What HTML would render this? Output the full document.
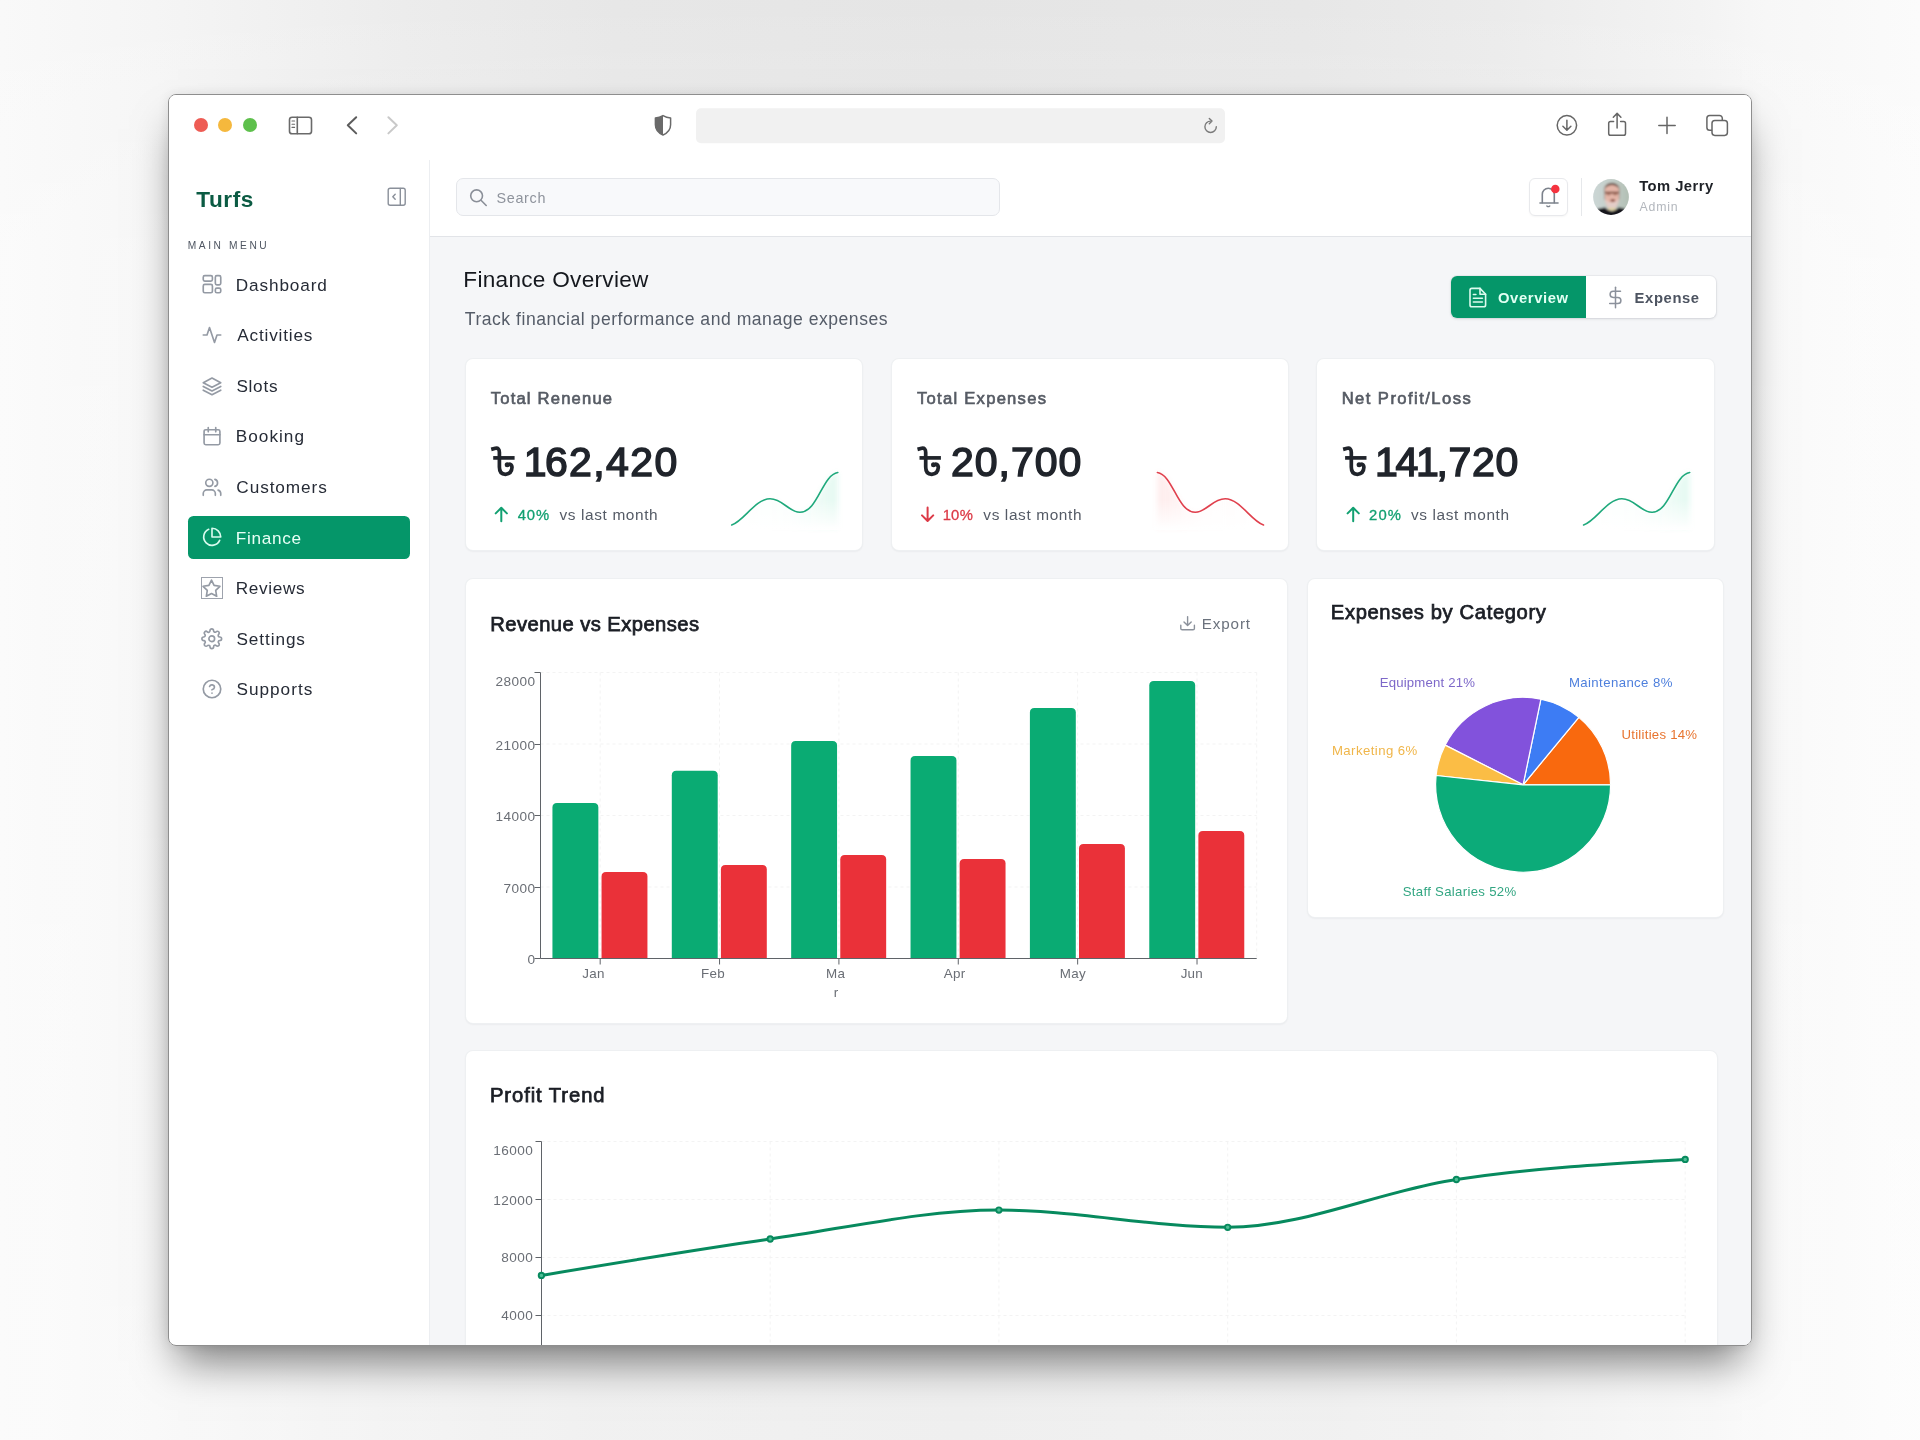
<!DOCTYPE html>
<html><head><meta charset="utf-8"><title>Turfs Finance</title>
<style>
*{box-sizing:border-box;margin:0;padding:0}
html,body{width:1920px;height:1440px;overflow:hidden}
body{font-family:"Liberation Sans",sans-serif;background:#f4f4f4;position:relative}
.bg{position:absolute;left:0;top:0;width:1920px;height:1440px;
 background:
  linear-gradient(180deg,rgba(255,255,255,0) 0%,rgba(255,255,255,.10) 6%,rgba(255,255,255,.30) 18%,rgba(255,255,255,.40) 100%),
  linear-gradient(90deg,#f9f9f9 0%,#f5f5f5 8%,#ececec 21%,#e7e7e7 32%,#e5e5e5 50%,#e7e7e7 68%,#ebebeb 78%,#f3f3f3 88.500%,#f7f7f7 92%,#fbfbfb 100%);}
.win{position:absolute;left:168px;top:94px;width:1584px;height:1252px;background:#fff;border:1px solid #8e8e8e;border-radius:8px;overflow:hidden;}
.shadow{position:absolute;left:168px;top:94px;width:1584px;height:1252px;border-radius:8px;
 box-shadow:0 25px 40px -10px rgba(0,0,0,.50),0 0 12px rgba(0,0,0,.08);}
.pg{position:absolute;left:-169px;top:-95px;width:1920px;height:1440px;will-change:transform}
.t{position:absolute;white-space:nowrap;line-height:1}
.abs{position:absolute}
.card{position:absolute;background:#fff;border-radius:7px;box-shadow:0 0 0 1px #eef0f2,0 1px 3px rgba(16,24,40,.07),0 1px 2px rgba(16,24,40,.04)}
svg{position:absolute;overflow:visible}
</style></head><body>
<div class="bg"></div>
<div class="shadow"></div>
<div class="win"><div class="pg">
<div class="abs" style="left:169px;top:95px;width:1582px;height:65px;background:#fff"></div>
<div class="abs" style="left:194px;top:118.3px;width:14px;height:14px;border-radius:50%;background:#ee5c54"></div>
<div class="abs" style="left:218.3px;top:118.3px;width:14px;height:14px;border-radius:50%;background:#f5b83d"></div>
<div class="abs" style="left:242.7px;top:118.3px;width:14px;height:14px;border-radius:50%;background:#5ec04c"></div>
<svg style="left:0;top:0" width="1920" height="1440" viewBox="0 0 1920 1440" fill="none">
<g stroke="#6a6a6a" stroke-width="1.6" stroke-linecap="round" stroke-linejoin="round">
<rect x="289.5" y="117.2" width="22" height="16.6" rx="2.6"/>
<path d="M297.3 117.4V133.6"/>
<path d="M292 121h2.6M292 124.2h2.6M292 127.4h2.6" stroke-width="1.1"/>
</g>
<path d="M356.2 117.3L347.8 125.3L356.2 133.4" stroke="#5c5c5c" stroke-width="2" stroke-linecap="round" stroke-linejoin="round"/>
<path d="M388.4 117.3L396.8 125.3L388.4 133.4" stroke="#c9c9c9" stroke-width="2" stroke-linecap="round" stroke-linejoin="round"/>
<!-- shield -->
<path d="M663 115.6c-2.6 1.5-5 2.1-7.6 2.3v6.9c0 4.7 3 8.2 7.6 10.2 4.6-2 7.6-5.5 7.6-10.2v-6.9c-2.6-.2-5-.8-7.6-2.300z" stroke="#6a6a6a" stroke-width="1.5" stroke-linejoin="round"/>
<path d="M663 115.6c-2.6 1.5-5 2.1-7.6 2.3v6.900c0 4.700 3 8.200 7.600 10.200z" fill="#6a6a6a"/>
<!-- url bar -->
<rect x="696" y="108.300" width="529" height="35" rx="5" fill="#f1f1f1"/>
<!-- reload -->
<g stroke="#7a7a7a" stroke-width="1.4" stroke-linecap="round" stroke-linejoin="round">
<path d="M1216.300 126.800a5.700 5.700 0 1 1-5.700-5.700"/>
<path d="M1209.300 118.400l2.700 2.700-2.700 2.700"/>
</g>
<!-- right icons -->
<g stroke="#666" stroke-width="1.5" stroke-linecap="round" stroke-linejoin="round">
<circle cx="1566.900" cy="125.300" r="9.700"/>
<path d="M1566.900 120.300v9.600M1562.900 126.300l4 4 4-4"/>
<path d="M1613.600 121.500h-3.100a1.800 1.800 0 0 0-1.800 1.800v10.200a1.800 1.800 0 0 0 1.800 1.800h13.200a1.800 1.800 0 0 0 1.800-1.800v-10.200a1.800 1.800 0 0 0-1.800-1.800h-3.100"/>
<path d="M1617.100 128v-14M1613.300 117.200l3.800-3.800 3.800 3.800"/>
<path d="M1667 117.200v16.400M1658.800 125.400h16.400"/>
<path d="M1711.500 130.300h-1.800a2.800 2.800 0 0 1-2.800-2.800v-9.200a2.800 2.800 0 0 1 2.800-2.800h9.800a2.800 2.800 0 0 1 2.800 2.800v1.800"/>
<rect x="1712" y="120.400" width="15.400" height="15" rx="2.800"/>
</g>
</svg>
<div class="abs" style="left:430px;top:237px;width:1322px;height:1110px;background:#f5f6f8"></div>
<div class="abs" style="left:429px;top:160px;width:1px;height:1190px;background:#eceef1"></div>
<div class="abs" style="left:430px;top:236px;width:1322px;height:1px;background:#e2e4e8"></div>
<div class="t" style="left:196.35px;top:187px;font-size:22.6px;line-height:25px;color:#0b5b43;letter-spacing:0.540px;font-weight:700;">Turfs</div>
<svg style="left:0;top:0" width="1920" height="1440" viewBox="0 0 1920 1440" fill="none">
<g stroke="#8a909a" stroke-width="1.4" stroke-linecap="round" stroke-linejoin="round">
<rect x="388.200" y="188.200" width="17" height="17" rx="2"/>
<path d="M400.300 188.400v16.600"/>
<path d="M395.200 194.200l-2.400 2.500 2.400 2.500"/>
</g></svg>
<div class="t" style="left:187.66px;top:240px;font-size:10.2px;line-height:11px;color:#4f5662;letter-spacing:2.595px;">MAIN MENU</div>
<div class="abs" style="left:188px;top:515.6px;width:222px;height:43.400px;border-radius:5.5px;background:#059669"></div>
<div class="t" style="left:235.79px;top:275px;font-size:17.2px;line-height:20px;color:#262b36;letter-spacing:0.872px;">Dashboard</div>
<div class="t" style="left:237.17px;top:325px;font-size:17.2px;line-height:20px;color:#262b36;letter-spacing:0.833px;">Activities</div>
<div class="t" style="left:236.42px;top:376px;font-size:17.2px;line-height:20px;color:#262b36;letter-spacing:0.717px;">Slots</div>
<div class="t" style="left:235.79px;top:426px;font-size:17.2px;line-height:20px;color:#262b36;letter-spacing:1.011px;">Booking</div>
<div class="t" style="left:236.33px;top:477px;font-size:17.2px;line-height:20px;color:#262b36;letter-spacing:0.917px;">Customers</div>
<div class="t" style="left:235.79px;top:528px;font-size:17.2px;line-height:20px;color:#e8fff6;letter-spacing:0.698px;">Finance</div>
<div class="t" style="left:235.79px;top:578px;font-size:17.2px;line-height:20px;color:#262b36;letter-spacing:0.640px;">Reviews</div>
<div class="t" style="left:236.42px;top:629px;font-size:17.2px;line-height:20px;color:#262b36;letter-spacing:0.922px;">Settings</div>
<div class="t" style="left:236.42px;top:679px;font-size:17.2px;line-height:20px;color:#262b36;letter-spacing:1.009px;">Supports</div>
<svg style="left:201.70px;top:274.40px" width="20" height="20" viewBox="0 0 24 24" fill="none" stroke="#949aa4" stroke-width="1.98" stroke-linecap="round" stroke-linejoin="round"><rect x="1.500" y="2" width="11" height="6.500" rx="1.800"/><rect x="16" y="2" width="6.500" height="11" rx="1.800"/><rect x="1.500" y="12.500" width="11" height="10" rx="1.800"/><rect x="16" y="17" width="6.500" height="5.500" rx="1.800"/></svg>
<svg style="left:201.70px;top:325.00px" width="20" height="20" viewBox="0 0 24 24" fill="none" stroke="#949aa4" stroke-width="1.98" stroke-linecap="round" stroke-linejoin="round"><polyline points="22.500 12 18 12 15 21 9 3 6 12 1.500 12"/></svg>
<svg style="left:201.70px;top:375.60px" width="20" height="20" viewBox="0 0 24 24" fill="none" stroke="#949aa4" stroke-width="1.98" stroke-linecap="round" stroke-linejoin="round"><polygon points="12 2.500 1.500 8 12 13.500 22.500 8 12 2.500"/><polyline points="1.500 12.500 12 18 22.500 12.500"/><polyline points="1.500 17 12 22.500 22.500 17"/></svg>
<svg style="left:201.70px;top:426.20px" width="20" height="20" viewBox="0 0 24 24" fill="none" stroke="#949aa4" stroke-width="1.98" stroke-linecap="round" stroke-linejoin="round"><rect x="2.500" y="4.500" width="19" height="18" rx="2"/><line x1="16.500" y1="2" x2="16.500" y2="7"/><line x1="7.500" y1="2" x2="7.500" y2="7"/><line x1="2.500" y1="10.500" x2="21.500" y2="10.500"/></svg>
<svg style="left:201.70px;top:476.80px" width="20" height="20" viewBox="0 0 24 24" fill="none" stroke="#949aa4" stroke-width="1.98" stroke-linecap="round" stroke-linejoin="round"><path d="M16 22v-2.200a4.300 4.300 0 0 0-4.300-4.300H5.800a4.300 4.300 0 0 0-4.300 4.300V22"/><circle cx="8.800" cy="7" r="4.300"/><path d="M22.500 22v-2.200a4.300 4.300 0 0 0-3.200-4.100"/><path d="M15.500 2.900a4.300 4.300 0 0 1 0 8.300"/></svg>
<svg style="left:201.70px;top:527.40px" width="20" height="20" viewBox="0 0 24 24" fill="none" stroke="#d8fbee" stroke-width="1.98" stroke-linecap="round" stroke-linejoin="round"><path d="M21.200 16A10 10 0 1 1 8 2.800"/><path d="M22.500 12A10.500 10.500 0 0 0 12 1.500V12z"/></svg>
<svg style="left:200.20px;top:576.50px" width="23" height="23" viewBox="0 0 24 24" fill="none" stroke="#949aa4" stroke-width="1.72" stroke-linecap="round" stroke-linejoin="round"><polygon points="12 3.200 14.700 8.800 20.800 9.700 16.400 14 17.400 20.100 12 17.200 6.600 20.100 7.600 14 3.200 9.700 9.300 8.800 12 3.200"/></svg>
<svg style="left:200.95px;top:627.85px" width="21.5" height="21.5" viewBox="0 0 24 24" fill="none" stroke="#949aa4" stroke-width="1.84" stroke-linecap="round" stroke-linejoin="round"><circle cx="12" cy="12" r="3.200"/><path d="M19.400 15a1.650 1.650 0 0 0 .33 1.820l.06.060a2 2 0 1 1-2.830 2.830l-.06-.06a1.650 1.650 0 0 0-1.820-.33 1.650 1.650 0 0 0-1 1.510V21a2 2 0 0 1-4 0v-.09A1.650 1.650 0 0 0 9 19.400a1.650 1.650 0 0 0-1.820.33l-.06.060a2 2 0 1 1-2.830-2.830l.06-.06a1.650 1.650 0 0 0 .33-1.820 1.650 1.650 0 0 0-1.510-1H3a2 2 0 0 1 0-4h.09A1.650 1.650 0 0 0 4.600 9a1.650 1.650 0 0 0-.33-1.820l-.06-.06a2 2 0 1 1 2.830-2.830l.06.060a1.650 1.650 0 0 0 1.820.33H9a1.650 1.650 0 0 0 1-1.510V3a2 2 0 0 1 4 0v.09a1.650 1.650 0 0 0 1 1.510 1.650 1.650 0 0 0 1.820-.33l.06-.06a2 2 0 1 1 2.830 2.830l-.06.060a1.650 1.650 0 0 0-.33 1.820V9a1.650 1.650 0 0 0 1.510 1H21a2 2 0 0 1 0 4h-.09a1.650 1.650 0 0 0-1.510 1z"/></svg>
<svg style="left:201.70px;top:679.20px" width="20" height="20" viewBox="0 0 24 24" fill="none" stroke="#949aa4" stroke-width="1.98" stroke-linecap="round" stroke-linejoin="round"><circle cx="12" cy="12" r="10.500"/><path d="M9.100 9a3 3 0 0 1 5.830 1c0 2-3 3-3 3"/><line x1="12" y1="17" x2="12.010" y2="17"/></svg>
<div class="abs" style="left:201px;top:577.4px;width:21.8px;height:21.400px;border:1px solid #9ea3ad"></div>
<div class="abs" style="left:455.6px;top:178.100px;width:544.8px;height:38.200px;border-radius:7px;background:#f8f9fb;border:1px solid #e4e6ea"></div>
<svg style="left:0;top:0" width="1920" height="1440" viewBox="0 0 1920 1440" fill="none">
<g stroke="#8a8f98" stroke-width="1.600" stroke-linecap="round"><circle cx="476.600" cy="195.800" r="5.900"/><path d="M481 200.300l5.200 5.200"/></g></svg>
<div class="t" style="left:496.55px;top:190px;font-size:14.4px;line-height:16px;color:#8e939c;letter-spacing:0.654px;">Search</div>
<div class="abs" style="left:1529.4px;top:178.100px;width:38.400px;height:38.200px;border-radius:6px;background:#fff;border:1px solid #e8e9ec;box-shadow:0 1px 2px rgba(0,0,0,.04)"></div>
<svg style="left:0;top:0" width="1920" height="1440" viewBox="0 0 1920 1440" fill="none">
<g stroke="#7c828c" stroke-width="1.600" stroke-linecap="round" stroke-linejoin="round">
<path d="M1542.300 202.800v-8.500a6 6 0 0 1 12 0v8.500"/><path d="M1540 203h18"/><path d="M1546.800 206q1.500 1.300 3 0" stroke-width="1.300"/>
</g>
<circle cx="1555.300" cy="189" r="4.250" fill="#f5333f"/>
</svg>
<div class="abs" style="left:1581px;top:178px;width:1px;height:38px;background:#e6e8eb"></div>
<svg style="left:1593.400px;top:179.200px" width="36" height="36" viewBox="0 0 36 36">
<defs><clipPath id="av"><circle cx="18" cy="18" r="17.900"/></clipPath>
<linearGradient id="avbg" x1="0" y1="0" x2="1" y2="0"><stop offset="0" stop-color="#cdd8d8"/><stop offset=".5" stop-color="#c4cec9"/><stop offset="1" stop-color="#aebcb0"/></linearGradient>
<filter id="avb" x="-15%" y="-15%" width="130%" height="130%"><feGaussianBlur stdDeviation="1.050"/></filter></defs>
<g clip-path="url(#av)"><g filter="url(#avb)">
<rect x="-4" y="-4" width="44" height="44" fill="url(#avbg)"/>
<path d="M10.800 11C10.800 6 14.500 3.800 18.900 3.800S27 6 27 11L26.500 21H11.300z" fill="#a1958e"/>
<path d="M12 11.500C12 7 15 5.200 18.900 5.200S25.800 7 25.800 11.500V19C25.800 25.500 22.500 30 18.900 30S12 25.500 12 19z" fill="#e4b5a7"/>
<path d="M12.300 9.200C13.300 5.600 16 4.300 18.900 4.300S24.500 5.600 25.500 9.200C23.500 6.500 21.500 5.900 18.900 5.900S14.300 6.500 12.300 9.200z" fill="#5e4136"/>
<path d="M12 18.500C12.500 25.500 15.500 30.200 18.900 30.200S25.300 25.500 25.800 18.500C24.300 22.500 22 23.500 18.900 23.500S13.500 22.500 12 18.500z" fill="#e3cdc8"/>
<rect x="11.800" y="12.800" width="14.200" height="1.700" rx=".8" fill="#6a3a2c" opacity=".9"/>
<ellipse cx="15.600" cy="15" rx="2.300" ry="1.500" fill="#8a5545" opacity=".55"/>
<ellipse cx="22.200" cy="15" rx="2.300" ry="1.500" fill="#8a5545" opacity=".55"/>
<ellipse cx="19.800" cy="21.400" rx="2.400" ry="1.200" fill="#7c3f35"/>
<ellipse cx="18.900" cy="30.200" rx="4.200" ry="1.400" fill="#ded1a2"/>
<path d="M-4 40V33.500C2 30.500 8 28.300 12.300 28.500C14.500 30.800 16.500 32 18.900 32S23.300 30.800 25.500 28.500C30 28.300 34 30.500 40 33.500V40z" fill="#14151d"/>
</g></g></svg>
<div class="t" style="left:1639.23px;top:178px;font-size:14.8px;line-height:16px;color:#1e2127;letter-spacing:0.435px;font-weight:700;">Tom Jerry</div>
<div class="t" style="left:1639.38px;top:200px;font-size:12.3px;line-height:14px;color:#b3b7bd;letter-spacing:0.865px;">Admin</div>
<div class="t" style="left:463.35px;top:267px;font-size:22.6px;line-height:25px;color:#15181e;letter-spacing:0.283px;">Finance Overview</div>
<div class="t" style="left:464.80px;top:309px;font-size:17.6px;line-height:20px;color:#555c68;letter-spacing:0.509px;">Track financial performance and manage expenses</div>
<div class="abs" style="left:1450.6px;top:276.300px;width:265.200px;height:42px;border-radius:6px;background:#fff;box-shadow:0 1px 3px rgba(16,24,40,.12),0 0 0 1px rgba(16,24,40,.04)"></div>
<div class="abs" style="left:1450.6px;top:276.300px;width:135.600px;height:42px;border-radius:6px 0 0 6px;background:#059669"></div>
<svg style="left:0;top:0" width="1920" height="1440" viewBox="0 0 1920 1440" fill="none">
<g stroke="#dcfbee" stroke-width="1.600" stroke-linecap="round" stroke-linejoin="round">
<path d="M1480 288.400h-8.200a1.800 1.800 0 0 0-1.800 1.800v14.800a1.800 1.800 0 0 0 1.800 1.800h12a1.800 1.800 0 0 0 1.800-1.800v-10.800z"/>
<path d="M1480 288.400v5.800h5.600"/>
<path d="M1473.400 298.200h9M1473.400 302h9M1473.400 294.500h2.500"/>
</g>
<g stroke="#8b919b" stroke-width="1.500" stroke-linecap="round" stroke-linejoin="round">
<path d="M1615.500 287.200v20.600"/>
<path d="M1620.500 291.200h-7.300a3.100 3.100 0 0 0 0 6.200h4.600a3.100 3.100 0 0 1 0 6.200h-8.100"/>
</g></svg>
<div class="t" style="left:1497.99px;top:290px;font-size:14.8px;line-height:16px;color:#e2fff3;letter-spacing:0.609px;font-weight:700;">Overview</div>
<div class="t" style="left:1634.61px;top:290px;font-size:14.8px;line-height:16px;color:#4d5461;letter-spacing:0.602px;font-weight:700;">Expense</div>
<div class="card" style="left:465.5px;top:358.800px;width:396.700px;height:191.400px"></div>
<div class="t" style="left:490.73px;top:389px;font-size:16.6px;line-height:19px;color:#565b64;letter-spacing:1.197px;-webkit-text-stroke:0.65px;">Total Renenue</div>
<svg style="left:0;top:0" width="1920" height="1440" viewBox="0 0 1920 1440" fill="none">
<g transform="translate(0.00,0)" stroke="#20242b" stroke-width="3.700" stroke-linejoin="round">
<path d="M491.200 449.400L495.400 448.300Q499.400 447.600 499.400 452.400L499.400 467Q499.400 474.300 505.400 474.300Q511.800 473.800 512 467.200Q511.800 464.300 508.600 464.200" stroke-linecap="butt"/>
<path d="M493.200 457.900H514.600"/>
</g>
<circle cx="507.20" cy="464.800" r="2.500" fill="#20242b"/>
</svg>
<div class="t" style="left:523.73px;top:439px;font-size:41px;line-height:46px;color:#20242b;letter-spacing:1.388px;-webkit-text-stroke:1.5px;"><span style="margin:0 -3.0px 0 0px">1</span>62,420</div>
<svg style="left:0;top:0" width="1920" height="1440" viewBox="0 0 1920 1440" fill="none"><path d="M501.3 521.200V508M495.7 513.400L501.3 507.800L506.90000000000003 513.400" stroke="#12a071" stroke-width="2" stroke-linecap="round" stroke-linejoin="round"/></svg>
<div class="t" style="left:517.66px;top:507px;font-size:14.8px;line-height:16px;color:#12a071;letter-spacing:0.924px;-webkit-text-stroke:0.3px;">40%</div>
<div class="t" style="left:559.55px;top:506px;font-size:15.4px;line-height:17px;color:#555b66;letter-spacing:0.619px;">vs last month</div>
<svg style="left:0;top:0" width="1920" height="1440" viewBox="0 0 1920 1440" fill="none">
<defs><linearGradient id="sp0" x1="0" y1="0" x2="1" y2="0"><stop offset="0" stop-color="#34d399" stop-opacity="0"/><stop offset=".55" stop-color="#34d399" stop-opacity=".02"/><stop offset="1" stop-color="#34d399" stop-opacity=".13"/></linearGradient>
<filter id="sp0b" x="-20%" y="-20%" width="140%" height="140%"><feGaussianBlur stdDeviation="2.500"/></filter>
<linearGradient id="sp0v" x1="0" y1="0" x2="0" y2="1"><stop offset="0" stop-color="#fff" stop-opacity="0"/><stop offset="1" stop-color="#fff" stop-opacity="1"/></linearGradient></defs>
<g transform="translate(0.00,0)">
<path d="M731.700 525C744 521 755 499 770 498.800C783 498.800 789 512.500 800 512.300C818 512 822 475 837.800 472.500L837.800 528L731.700 528Z" fill="url(#sp0)" filter="url(#sp0b)"/>
<rect x="728" y="500" width="114" height="30" fill="url(#sp0v)"/>
<path d="M731.700 525C744 521 755 499 770 498.800C783 498.800 789 512.500 800 512.300C818 512 822 475 837.800 472.500" stroke="#1fa97c" stroke-width="1.600" stroke-linecap="round"/>
</g></svg>
<div class="card" style="left:891.6px;top:358.800px;width:396.700px;height:191.400px"></div>
<div class="t" style="left:917.03px;top:389px;font-size:16.6px;line-height:19px;color:#565b64;letter-spacing:1.262px;-webkit-text-stroke:0.65px;">Total Expenses</div>
<svg style="left:0;top:0" width="1920" height="1440" viewBox="0 0 1920 1440" fill="none">
<g transform="translate(426.30,0)" stroke="#20242b" stroke-width="3.700" stroke-linejoin="round">
<path d="M491.200 449.400L495.400 448.300Q499.400 447.600 499.400 452.400L499.400 467Q499.400 474.300 505.400 474.300Q511.800 473.800 512 467.200Q511.800 464.300 508.600 464.200" stroke-linecap="butt"/>
<path d="M493.200 457.900H514.600"/>
</g>
<circle cx="933.50" cy="464.800" r="2.500" fill="#20242b"/>
</svg>
<div class="t" style="left:951.09px;top:439px;font-size:41px;line-height:46px;color:#20242b;letter-spacing:0.954px;-webkit-text-stroke:1.5px;">20,700</div>
<svg style="left:0;top:0" width="1920" height="1440" viewBox="0 0 1920 1440" fill="none"><path d="M927.6 507.600V520.800M922.0 515.400L927.6 521L933.2 515.400" stroke="#dc3a47" stroke-width="2" stroke-linecap="round" stroke-linejoin="round"/></svg>
<div class="t" style="left:942.87px;top:507px;font-size:14.8px;line-height:16px;color:#dc3a47;letter-spacing:0.668px;-webkit-text-stroke:0.3px;"><span style="margin:0 -0.8px 0 0px">1</span>0%</div>
<div class="t" style="left:983.35px;top:506px;font-size:15.4px;line-height:17px;color:#555b66;letter-spacing:0.619px;">vs last month</div>
<svg style="left:0;top:0" width="1920" height="1440" viewBox="0 0 1920 1440" fill="none">
<defs><linearGradient id="sp1" x1="0" y1="0" x2="1" y2="0"><stop offset="0" stop-color="#f87171" stop-opacity=".13"/><stop offset=".45" stop-color="#f87171" stop-opacity=".02"/><stop offset="1" stop-color="#f87171" stop-opacity="0"/></linearGradient>
<filter id="sp1b" x="-20%" y="-20%" width="140%" height="140%"><feGaussianBlur stdDeviation="2.500"/></filter>
<linearGradient id="sp1v" x1="0" y1="0" x2="0" y2="1"><stop offset="0" stop-color="#fff" stop-opacity="0"/><stop offset="1" stop-color="#fff" stop-opacity="1"/></linearGradient></defs>
<g transform="translate(0.40,0)">
<path d="M1157 472.500C1172.800 475 1176.800 512 1194.800 512.300C1205.800 512.500 1211.800 498.800 1224.800 498.800C1239.800 499 1250.800 521 1263.100 525L1263.100 528L1157 528Z" fill="url(#sp1)" filter="url(#sp1b)"/>
<rect x="1153" y="500" width="114" height="30" fill="url(#sp1v)"/>
<path d="M1157 472.500C1172.800 475 1176.800 512 1194.800 512.300C1205.800 512.500 1211.800 498.800 1224.800 498.800C1239.800 499 1250.800 521 1263.100 525" stroke="#e0404d" stroke-width="1.600" stroke-linecap="round"/>
</g></svg>
<div class="card" style="left:1317.3px;top:358.800px;width:396.700px;height:191.400px"></div>
<div class="t" style="left:1341.64px;top:389px;font-size:16.6px;line-height:19px;color:#565b64;letter-spacing:1.450px;-webkit-text-stroke:0.65px;">Net Profit/Loss</div>
<svg style="left:0;top:0" width="1920" height="1440" viewBox="0 0 1920 1440" fill="none">
<g transform="translate(851.90,0)" stroke="#20242b" stroke-width="3.700" stroke-linejoin="round">
<path d="M491.200 449.400L495.400 448.300Q499.400 447.600 499.400 452.400L499.400 467Q499.400 474.300 505.400 474.300Q511.800 473.800 512 467.200Q511.800 464.300 508.600 464.200" stroke-linecap="butt"/>
<path d="M493.200 457.900H514.600"/>
</g>
<circle cx="1359.10" cy="464.800" r="2.500" fill="#20242b"/>
</svg>
<div class="t" style="left:1375.03px;top:439px;font-size:41px;line-height:46px;color:#20242b;letter-spacing:0.655px;-webkit-text-stroke:1.5px;"><span style="margin:0 -3.0px 0 0px">1</span>4<span style="margin:0 -3.0px 0 -3.0px">1</span>,720</div>
<svg style="left:0;top:0" width="1920" height="1440" viewBox="0 0 1920 1440" fill="none"><path d="M1353.2 521.200V508M1347.6000000000001 513.400L1353.2 507.800L1358.8 513.400" stroke="#12a071" stroke-width="2" stroke-linecap="round" stroke-linejoin="round"/></svg>
<div class="t" style="left:1369.06px;top:507px;font-size:14.8px;line-height:16px;color:#12a071;letter-spacing:1.126px;-webkit-text-stroke:0.3px;">20%</div>
<div class="t" style="left:1410.95px;top:506px;font-size:15.4px;line-height:17px;color:#555b66;letter-spacing:0.619px;">vs last month</div>
<svg style="left:0;top:0" width="1920" height="1440" viewBox="0 0 1920 1440" fill="none">
<defs><linearGradient id="sp2" x1="0" y1="0" x2="1" y2="0"><stop offset="0" stop-color="#34d399" stop-opacity="0"/><stop offset=".55" stop-color="#34d399" stop-opacity=".02"/><stop offset="1" stop-color="#34d399" stop-opacity=".13"/></linearGradient>
<filter id="sp2b" x="-20%" y="-20%" width="140%" height="140%"><feGaussianBlur stdDeviation="2.500"/></filter>
<linearGradient id="sp2v" x1="0" y1="0" x2="0" y2="1"><stop offset="0" stop-color="#fff" stop-opacity="0"/><stop offset="1" stop-color="#fff" stop-opacity="1"/></linearGradient></defs>
<g transform="translate(851.90,0)">
<path d="M731.700 525C744 521 755 499 770 498.800C783 498.800 789 512.500 800 512.300C818 512 822 475 837.800 472.500L837.800 528L731.700 528Z" fill="url(#sp2)" filter="url(#sp2b)"/>
<rect x="728" y="500" width="114" height="30" fill="url(#sp2v)"/>
<path d="M731.700 525C744 521 755 499 770 498.800C783 498.800 789 512.500 800 512.300C818 512 822 475 837.800 472.500" stroke="#1fa97c" stroke-width="1.600" stroke-linecap="round"/>
</g></svg>
<div class="card" style="left:465.500px;top:578.900px;width:821.400px;height:444.300px"></div>
<div class="t" style="left:490.24px;top:613px;font-size:20.2px;line-height:22px;color:#1b1e25;letter-spacing:0.444px;-webkit-text-stroke:0.75px;">Revenue vs Expenses</div>
<svg style="left:0;top:0" width="1920" height="1440" viewBox="0 0 1920 1440" fill="none">
<g stroke="#8b919b" stroke-width="1.400" stroke-linecap="round" stroke-linejoin="round">
<path d="M1187.600 616.600v8.800M1184 622l3.600 3.600 3.600-3.600"/><path d="M1180.800 625.200v3.200a1.400 1.400 0 0 0 1.400 1.400h10.800a1.400 1.400 0 0 0 1.400-1.400v-3.200"/>
</g></svg>
<div class="t" style="left:1201.85px;top:615px;font-size:15.2px;line-height:17px;color:#6b727d;letter-spacing:0.866px;">Export</div>
<svg style="left:0;top:0" width="1920" height="1440" viewBox="0 0 1920 1440" fill="none"><g stroke="#f3f3f3" stroke-width="1" stroke-dasharray="3 3"><path d="M540.5 672.5H1256.7"/><path d="M540.5 744.0H1256.7"/><path d="M540.5 815.5H1256.7"/><path d="M540.5 887.0H1256.7"/><path d="M600.18 672.5V958.5"/><path d="M719.55 672.5V958.5"/><path d="M838.92 672.5V958.5"/><path d="M958.28 672.5V958.5"/><path d="M1077.65 672.5V958.5"/><path d="M1197.02 672.5V958.5"/><path d="M1256.7 672.5V958.5"/></g><path d="M552.44 958.5V807.50Q552.44 803.00 556.94 803.00H593.84Q598.34 803.00 598.34 807.50V958.5Z" fill="#0aab73"/><path d="M601.54 958.5V876.50Q601.54 872.00 606.04 872.00H642.94Q647.44 872.00 647.44 876.50V958.5Z" fill="#ea3139"/><path d="M671.80 958.5V775.30Q671.80 770.80 676.30 770.80H713.20Q717.70 770.80 717.70 775.30V958.5Z" fill="#0aab73"/><path d="M720.90 958.5V869.50Q720.90 865.00 725.40 865.00H762.30Q766.80 865.00 766.80 869.50V958.5Z" fill="#ea3139"/><path d="M791.17 958.5V745.50Q791.17 741.00 795.67 741.00H832.57Q837.07 741.00 837.07 745.50V958.5Z" fill="#0aab73"/><path d="M840.27 958.5V859.50Q840.27 855.00 844.77 855.00H881.67Q886.17 855.00 886.17 859.50V958.5Z" fill="#ea3139"/><path d="M910.54 958.5V760.50Q910.54 756.00 915.04 756.00H951.94Q956.44 756.00 956.44 760.50V958.5Z" fill="#0aab73"/><path d="M959.64 958.5V863.50Q959.64 859.00 964.14 859.00H1001.04Q1005.54 859.00 1005.54 863.50V958.5Z" fill="#ea3139"/><path d="M1029.90 958.5V712.50Q1029.90 708.00 1034.40 708.00H1071.30Q1075.80 708.00 1075.80 712.50V958.5Z" fill="#0aab73"/><path d="M1079.00 958.5V848.50Q1079.00 844.00 1083.50 844.00H1120.40Q1124.90 844.00 1124.90 848.50V958.5Z" fill="#ea3139"/><path d="M1149.27 958.5V685.50Q1149.27 681.00 1153.77 681.00H1190.67Q1195.17 681.00 1195.17 685.50V958.5Z" fill="#0aab73"/><path d="M1198.37 958.5V835.50Q1198.37 831.00 1202.87 831.00H1239.77Q1244.27 831.00 1244.27 835.50V958.5Z" fill="#ea3139"/><g stroke="#5f6368" stroke-width="1"><path d="M540.5 672.5V958.5"/><path d="M540.5 958.5H1256.7"/><path d="M534.5 672.5H540.5"/><path d="M534.5 744.5H540.5"/><path d="M534.5 815.5H540.5"/><path d="M534.5 887.5H540.5"/><path d="M534.5 958.5H540.5"/><path d="M600.18 958.5V964.5"/><path d="M719.55 958.5V964.5"/><path d="M838.92 958.5V964.5"/><path d="M958.28 958.5V964.5"/><path d="M1077.65 958.5V964.5"/><path d="M1197.02 958.5V964.5"/></g></svg>
<div class="t" style="left:495.51px;top:674px;font-size:13.6px;line-height:15px;color:#6a6e75;letter-spacing:0.450px;">28000</div>
<div class="t" style="left:495.51px;top:738px;font-size:13.6px;line-height:15px;color:#6a6e75;letter-spacing:0.450px;">21000</div>
<div class="t" style="left:495.51px;top:809px;font-size:13.6px;line-height:15px;color:#6a6e75;letter-spacing:0.450px;">14000</div>
<div class="t" style="left:503.53px;top:881px;font-size:13.6px;line-height:15px;color:#6a6e75;letter-spacing:0.450px;">7000</div>
<div class="t" style="left:527.57px;top:952px;font-size:13.6px;line-height:15px;color:#6a6e75;letter-spacing:0.450px;">0</div>
<div class="t" style="left:582.23px;top:966px;font-size:13.4px;line-height:15px;color:#6a6e75;letter-spacing:0.300px;">Jan</div>
<div class="t" style="left:701.09px;top:966px;font-size:13.4px;line-height:15px;color:#6a6e75;letter-spacing:0.300px;">Feb</div>
<div class="t" style="left:825.99px;top:966px;font-size:13.4px;line-height:15px;color:#6a6e75;letter-spacing:0.300px;">Ma</div>
<div class="t" style="left:943.67px;top:966px;font-size:13.4px;line-height:15px;color:#6a6e75;letter-spacing:0.300px;">Apr</div>
<div class="t" style="left:1059.71px;top:966px;font-size:13.4px;line-height:15px;color:#6a6e75;letter-spacing:0.300px;">May</div>
<div class="t" style="left:1180.63px;top:966px;font-size:13.4px;line-height:15px;color:#6a6e75;letter-spacing:0.300px;">Jun</div>
<div class="t" style="left:833.73px;top:985px;font-size:13.4px;line-height:15px;color:#6a6e75;letter-spacing:0.000px;">r</div>
<div class="card" style="left:1307.500px;top:578.800px;width:415px;height:338.700px"></div>
<div class="t" style="left:1330.84px;top:601px;font-size:20.2px;line-height:22px;color:#1b1e25;letter-spacing:0.630px;-webkit-text-stroke:0.75px;">Expenses by Category</div>
<svg style="left:0;top:0" width="1920" height="1440" viewBox="0 0 1920 1440" fill="none"><g stroke="#fff" stroke-width="1.200" stroke-linejoin="round"><path d="M1523.1 784.8L1610.60 784.80A87.5 87.5 0 0 0 1578.83 717.35Z" fill="#f9690e"/><path d="M1523.1 784.8L1578.83 717.35A87.5 87.5 0 0 0 1540.90 699.13Z" fill="#3d7cf4"/><path d="M1523.1 784.8L1540.90 699.13A87.5 87.5 0 0 0 1445.11 745.14Z" fill="#8252dc"/><path d="M1523.1 784.8L1445.11 745.14A87.5 87.5 0 0 0 1436.09 775.52Z" fill="#fbbd45"/><path d="M1523.1 784.8L1436.09 775.52A87.5 87.5 0 1 0 1610.60 784.80Z" fill="#0cab79"/></g></svg>
<div class="t" style="left:1379.72px;top:675px;font-size:13.2px;line-height:15px;color:#7d68c9;letter-spacing:0.181px;">Equipment 21%</div>
<div class="t" style="left:1568.92px;top:675px;font-size:13.2px;line-height:15px;color:#4f80dd;letter-spacing:0.403px;">Maintenance 8%</div>
<div class="t" style="left:1621.48px;top:727px;font-size:13.2px;line-height:15px;color:#e8742f;letter-spacing:0.255px;">Utilities 14%</div>
<div class="t" style="left:1331.92px;top:743px;font-size:13.2px;line-height:15px;color:#f0b64a;letter-spacing:0.433px;">Marketing 6%</div>
<div class="t" style="left:1402.70px;top:884px;font-size:13.2px;line-height:15px;color:#32a682;letter-spacing:0.308px;">Staff Salaries 52%</div>
<div class="card" style="left:465.500px;top:1051.300px;width:1251px;height:330px"></div>
<div class="t" style="left:489.94px;top:1084px;font-size:20.2px;line-height:22px;color:#1b1e25;letter-spacing:0.932px;-webkit-text-stroke:0.75px;">Profit Trend</div>
<svg style="left:0;top:0" width="1920" height="1440" viewBox="0 0 1920 1440" fill="none"><g stroke="#f3f3f3" stroke-width="1" stroke-dasharray="3 3"><path d="M541.5 1141.5H1685.200"/><path d="M541.5 1199.5H1685.200"/><path d="M541.5 1257.5H1685.200"/><path d="M541.5 1315.5H1685.200"/><path d="M770.2 1141.5V1360"/><path d="M998.9 1141.5V1360"/><path d="M1227.7 1141.5V1360"/><path d="M1456.4 1141.5V1360"/><path d="M1685.2 1141.5V1360"/></g><g stroke="#5f6368" stroke-width="1"><path d="M541.5 1141.5V1360"/><path d="M535.5 1141.5H541.5"/><path d="M535.5 1199.5H541.5"/><path d="M535.5 1257.5H541.5"/><path d="M535.5 1315.5H541.5"/></g><path d="M541.4 1275.4C617.67 1262.64 693.93 1249.89 770.2 1239C846.43 1228.12 922.67 1210.10 998.9 1210.1C1075.17 1210.10 1151.43 1227.30 1227.7 1227.3C1303.93 1227.30 1380.17 1190.82 1456.4 1179.5C1532.67 1168.18 1608.93 1163.79 1685.2 1159.4" stroke="#078a5e" stroke-width="3" stroke-linecap="round"/><circle cx="541.4" cy="1275.4" r="2.700" fill="#4fbf95" stroke="#078a5e" stroke-width="1.900"/><circle cx="770.2" cy="1239" r="2.700" fill="#4fbf95" stroke="#078a5e" stroke-width="1.900"/><circle cx="998.9" cy="1210.1" r="2.700" fill="#4fbf95" stroke="#078a5e" stroke-width="1.900"/><circle cx="1227.7" cy="1227.3" r="2.700" fill="#4fbf95" stroke="#078a5e" stroke-width="1.900"/><circle cx="1456.4" cy="1179.5" r="2.700" fill="#4fbf95" stroke="#078a5e" stroke-width="1.900"/><circle cx="1685.2" cy="1159.4" r="2.700" fill="#4fbf95" stroke="#078a5e" stroke-width="1.900"/></svg>
<div class="t" style="left:493.31px;top:1143px;font-size:13.6px;line-height:15px;color:#6a6e75;letter-spacing:0.450px;">16000</div>
<div class="t" style="left:493.31px;top:1193px;font-size:13.6px;line-height:15px;color:#6a6e75;letter-spacing:0.450px;">12000</div>
<div class="t" style="left:501.33px;top:1250px;font-size:13.6px;line-height:15px;color:#6a6e75;letter-spacing:0.450px;">8000</div>
<div class="t" style="left:501.33px;top:1308px;font-size:13.6px;line-height:15px;color:#6a6e75;letter-spacing:0.450px;">4000</div>
</div></div>
</body></html>
